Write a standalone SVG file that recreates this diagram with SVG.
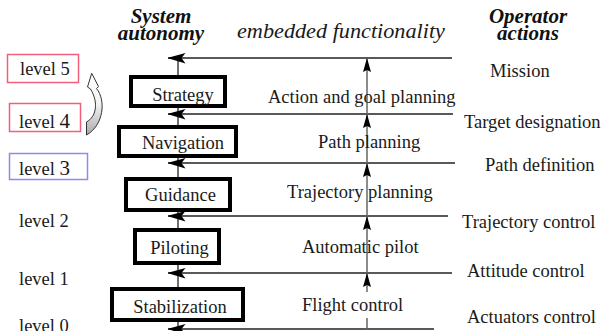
<svg xmlns="http://www.w3.org/2000/svg" width="604" height="331" viewBox="0 0 604 331">
<style>
text{font-family:"Liberation Serif","Times New Roman",Times,"DejaVu Serif",serif;font-size:18.5px;fill:#1a1a1a}
.hd{font-weight:bold;font-style:italic;font-size:21px;text-anchor:middle;fill:#111}
.it{font-style:italic;font-size:20.5px}
.node rect{fill:#fff;stroke:#000;stroke-width:4}
.node text{text-anchor:middle}
.lvl{fill:none;stroke-width:1.5}
.hline{stroke:#222;stroke-width:1.3;fill:none}
.vshaft{stroke:#666;stroke-width:1.5;fill:none}
.axis{stroke:#222;stroke-width:1.3;fill:none}
</style>
<defs>
<marker id="ah" markerUnits="userSpaceOnUse" viewBox="0 -6 18 12" refX="17.5" refY="0" markerWidth="18" markerHeight="12" orient="auto">
<path d="M0,-5.5 L18,0 L0,5 L4,0 Z" fill="#000"/>
</marker>
<marker id="av" markerUnits="userSpaceOnUse" viewBox="0 -5 14 10" refX="14" refY="0" markerWidth="14" markerHeight="10" orient="auto">
<path d="M0,-4 L14,0 L0,4 L2,0 Z" fill="#000"/>
</marker>
<linearGradient id="cg" x1="0" y1="0" x2="0" y2="1">
<stop offset="0" stop-color="#fff"/>
<stop offset="0.5" stop-color="#f2f2f2"/>
<stop offset="1" stop-color="#aaa"/>
</linearGradient>
</defs>
<rect width="604" height="331" fill="#fff"/>

<text class="hd" x="161" y="23">System</text>
<text class="hd" x="161" y="40">autonomy</text>
<text class="it" x="237" y="38" textLength="208" lengthAdjust="spacingAndGlyphs">embedded functionality</text>
<text class="hd" x="528" y="23">Operator</text>
<text class="hd" x="528" y="40">actions</text>

<g id="levels">
<rect class="lvl" x="7.5" y="54.5" width="71" height="28" stroke="#f0607c"/>
<text x="20" y="75">level 5</text>
<rect class="lvl" x="9.5" y="103.5" width="71" height="28" stroke="#f0607c"/>
<text x="19" y="128">level <tspan font-size="21">4</tspan></text>
<rect class="lvl" x="9.5" y="153.5" width="78" height="26" stroke="#8a8af0"/>
<text x="19" y="175">level <tspan font-size="21">3</tspan></text>
<text x="19" y="227">level 2</text>
<text x="19" y="285">level 1</text>
<text x="19" y="332">level 0</text>
<path d="M91.7,73.3 L98.5,86.5 L96.5,88.5 C106,100 104,125 86.5,135 L86.5,122 C96,117 99,103 90.5,89 L87.5,87 Z" fill="url(#cg)" stroke="#333" stroke-width="1"/>
</g>

<g id="connectors">
<line class="axis" x1="178" y1="58" x2="178" y2="329"/>
<path class="hline" d="M452,58 L168,58" marker-end="url(#ah)"/>
<path class="hline" d="M453,114 L168,114" marker-end="url(#ah)"/>
<path class="hline" d="M455,163 L168,163" marker-end="url(#ah)"/>
<path class="hline" d="M448,216 L168,216" marker-end="url(#ah)"/>
<path class="hline" d="M452,273 L168,273" marker-end="url(#ah)"/>
<path class="hline" d="M434,329 L168,329" marker-end="url(#ah)"/>
<path class="vshaft" d="M367,114 L367,58" marker-end="url(#av)"/>
<path class="vshaft" d="M367,163 L367,114" marker-end="url(#av)"/>
<path class="vshaft" d="M367,216 L367,163" marker-end="url(#av)"/>
<path class="vshaft" d="M367,273 L367,216" marker-end="url(#av)"/>
<path class="vshaft" d="M367,292 L367,273" marker-end="url(#av)"/>
<path class="vshaft" d="M367,329 L367,318"/>
</g>

<g id="strategy" class="node"><rect x="131" y="77" width="94" height="29"/><text x="183" y="101">Strategy</text></g>
<g id="navigation" class="node"><rect x="119" y="127" width="117" height="29"/><text x="183" y="149">Navigation</text></g>
<g id="guidance" class="node"><rect x="126" y="179" width="104" height="31"/><text x="180.5" y="201">Guidance</text></g>
<g id="piloting" class="node"><rect x="135" y="230" width="84" height="33"/><text x="179.5" y="254">Piloting</text></g>
<g id="stabilization" class="node"><rect x="112" y="289" width="131" height="31"/><text x="180" y="313">Stabilization</text></g>

<g id="functionality">
<text x="268" y="103">Action and goal planning</text>
<text x="318" y="148">Path planning</text>
<text x="287" y="198">Trajectory planning</text>
<text x="302" y="253">Automatic pilot</text>
<text x="302" y="311">Flight control</text>
</g>

<g id="operator">
<text x="490" y="77">Mission</text>
<text x="464" y="128">Target designation</text>
<text x="485" y="171">Path definition</text>
<text x="462" y="228">Trajectory control</text>
<text x="467" y="277">Attitude control</text>
<text x="467" y="323">Actuators control</text>
</g>
</svg>
